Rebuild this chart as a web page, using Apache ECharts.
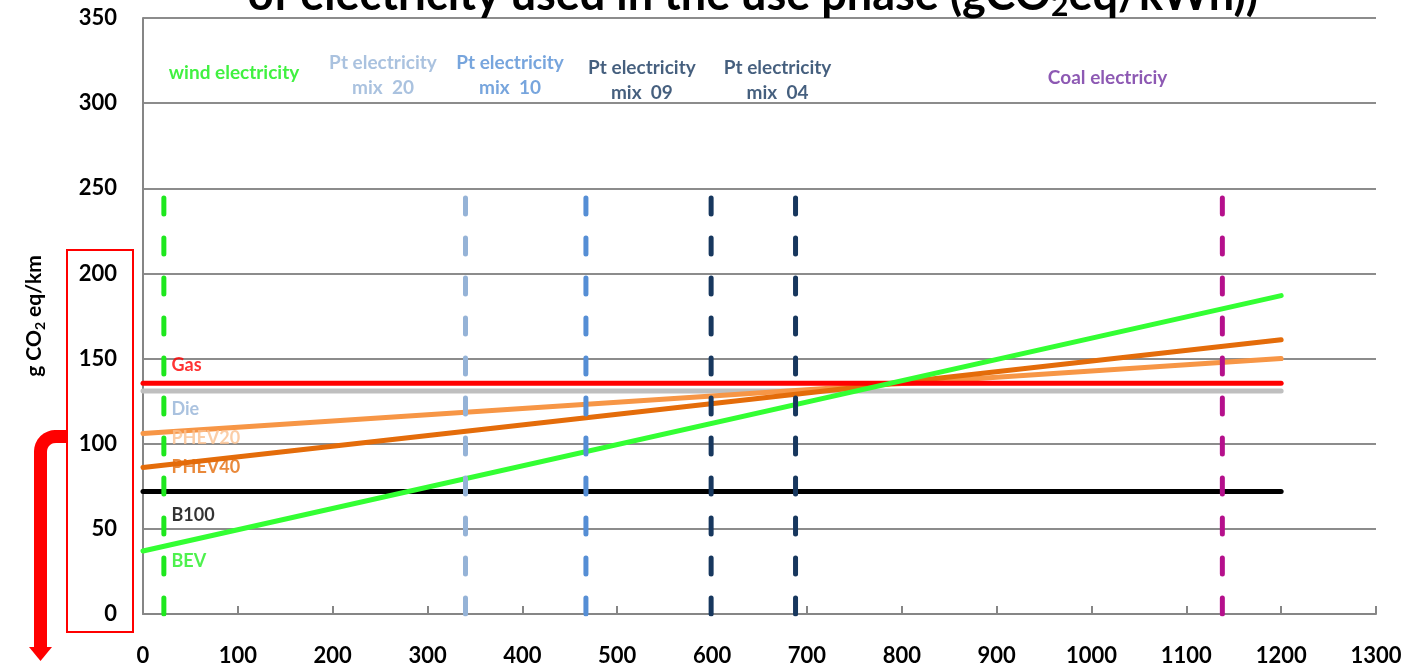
<!DOCTYPE html>
<html><head><meta charset="utf-8">
<script src="https://cdn.jsdelivr.net/npm/echarts@6/dist/echarts.min.js"></script>
<style>html,body{margin:0;padding:0;background:#fff}#c{width:1407px;height:670px}</style>
</head><body><div id="c"></div>
<script>
// ---- data ----
const xTicks = [0,100,200,300,400,500,600,700,800,900,1000,1100,1200,1300];
const yTicks = [0,50,100,150,200,250,300,350];
const lineNames = ['Die','PHEV20','PHEV40','B100','Gas','BEV'];
const lineX = [0, 1200];
const lineStart = [131, 106, 86, 72, 135.5, 37];
const lineEnd   = [131, 150, 161, 72, 135.5, 187];
const mixNames = ['wind electricity','Pt electricity\nmix  20','Pt electricity\nmix  10','Pt electricity\nmix  09','Pt electricity\nmix  04','Coal electriciy'];
const mixX = [22, 340, 467, 599, 688, 1138];
const mixYTop = 250;
// annotation anchors (data units)
const seriesLabelAnchorX = 30;
const seriesLabelAnchorY = [120, 103, 86, 58, 146, 31];
const mixLabelAnchorX = [96, 253, 387, 526, 669, 1017];
const mixLabelAnchorY = [318, 316.5, 316.5, 313.5, 313.5, 315];

// ---- styles ----
const FONT = 'Lato';
const lineColors = ['#bfbfbf','#f79646','#e46c0a','#000000','#ff0000','#33ff33'];
const lineTextColors = ['#95b3d7','#fac090','#e46c0a','#000000','#ff0000','#22ee22'];
const mixColors = ['#1ee81e','#95b3d7','#558ed5','#17375e','#17375e','#b5108c'];
const mixTextColors = ['#11ee11','#95b3d7','#558ed5','#17375e','#17375e','#7030a0'];

const series = [];
lineNames.forEach((n,i)=>{
  series.push({type:'line', name:n, data:[[lineX[0],lineStart[i]],[lineX[1],lineEnd[i]]],
    symbol:'none', silent:true, z:3,
    lineStyle:{color:lineColors[i], width:5, cap:'round'}});
});
mixNames.forEach((n,i)=>{
  series.push({type:'line', name:n, data:[[mixX[i],0],[mixX[i],mixYTop]],
    symbol:'none', silent:true, z:5,
    lineStyle:{color:mixColors[i], width:5, cap:'round', type:[16,24]}});
});
series.push({type:'scatter', symbolSize:0, silent:true, z:6,
  data: lineNames.map((n,i)=>({value:[seriesLabelAnchorX, seriesLabelAnchorY[i]], name:n,
    label:{color:lineTextColors[i]}})),
  label:{show:true, position:'inside', align:'left', verticalAlign:'middle', formatter:p=>p.name,
    fontFamily:FONT, fontWeight:'bold', fontSize:18}});
series.push({type:'scatter', symbolSize:0, silent:true, z:6,
  data: mixNames.map((n,i)=>({value:[mixLabelAnchorX[i], mixLabelAnchorY[i]], name:n,
    label:{color:mixTextColors[i]}})),
  label:{show:true, position:'inside', align:'center', verticalAlign:'middle', formatter:p=>p.name,
    fontFamily:FONT, fontWeight:'bold', fontSize:19, lineHeight:25}});

// rounded corner of the decorative arrow
const arrowPts = [[67,436.5]];
for (let k=0;k<=8;k++){ const a=Math.PI/2*k/8; arrowPts.push([40.5+15-15*Math.sin(a), 436.5+15-15*Math.cos(a)]); }
arrowPts.push([40.5,648]);

const chart = echarts.init(document.getElementById('c'), null, {renderer:'canvas'});
chart.setOption({
  animation:false,
  backgroundColor:'#fff',
  title:{
    text:'of electricity used in the use phase (gCO{sub|2}eq/kWh))',
    left:748, textAlign:'center', top:-36,
    textStyle:{fontFamily:FONT, fontWeight:'bold', fontSize:45, color:'#000',
      rich:{sub:{fontFamily:FONT, fontWeight:'bold', fontSize:30, padding:[22,0,0,0], color:'#000'}}}
  },
  grid:{left:143, right:31, top:18, bottom:56, containLabel:false},
  xAxis:{type:'value', min:0, max:1300, interval:100,
    axisLine:{show:true, lineStyle:{color:'#868686', width:2}},
    axisTick:{show:true, inside:true, length:8, lineStyle:{color:'#868686', width:2}},
    splitLine:{show:false},
    axisLabel:{fontFamily:FONT, fontWeight:'bold', fontSize:22, color:'#000', margin:31,
      formatter:v=>xTicks.includes(v)?String(v):''}},
  yAxis:{type:'value', min:0, max:350, interval:50,
    name:'g CO{sub|2} eq/km', nameLocation:'middle', nameRotate:90, nameGap:96,
    nameTextStyle:{fontFamily:FONT, fontWeight:'bold', fontSize:21, color:'#000',
      rich:{sub:{fontFamily:FONT, fontWeight:'bold', fontSize:14, padding:[12,0,0,0], color:'#000'}}},
    axisLine:{show:true, lineStyle:{color:'#868686', width:2}},
    axisTick:{show:false},
    splitLine:{show:true, lineStyle:{color:'#8c8c8c', width:2}},
    axisLabel:{fontFamily:FONT, fontWeight:'bold', fontSize:22, color:'#000', margin:26,
      formatter:v=>yTicks.includes(v)?String(v):''}},
  graphic:[
    {type:'rect', shape:{x:67, y:250, width:66, height:382}, style:{fill:'none', stroke:'#ff0000', lineWidth:2}, z:10},
    {type:'polyline', shape:{points:arrowPts}, style:{fill:'none', stroke:'#ff0000', lineWidth:13, lineJoin:'round'}, z:10},
    {type:'polygon', shape:{points:[[29,647],[52,647],[40.5,661]]}, style:{fill:'#ff0000'}, z:10}
  ],
  series
});
</script></body></html>
